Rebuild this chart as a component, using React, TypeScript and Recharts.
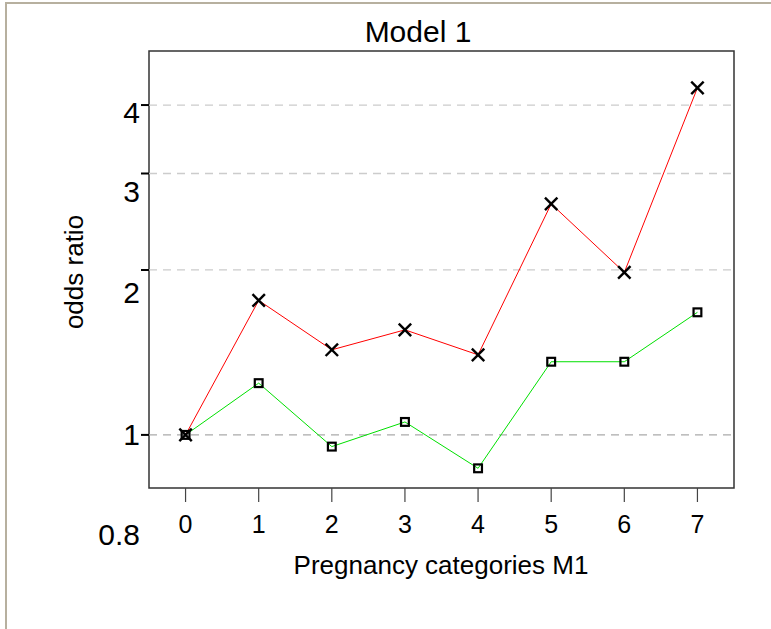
import React from "react";
import { LineChart, Line, XAxis, YAxis, ReferenceLine, ReferenceArea } from "recharts";

// ---- data ----
const categories = [0, 1, 2, 3, 4, 5, 6, 7];
const redSeries = [1.0, 1.76, 1.43, 1.555, 1.40, 2.64, 1.98, 4.3];
const greenSeries = [1.0, 1.243, 0.952, 1.056, 0.869, 1.36, 1.36, 1.674];
const xTicks = [0, 1, 2, 3, 4, 5, 6, 7];
const yTicks = [0.8, 1, 2, 3, 4];
const gridValues = [1, 2, 3, 4];
const titleText = "Model 1";
const xLabelText = "Pregnancy categories M1";
const yLabelText = "odds ratio";

const data = categories.map((c, i) => ({ cat: c, red: redSeries[i], green: greenSeries[i] }));

// ---- style ----
const FONT = '"Liberation Sans", Arial, Helvetica, sans-serif';
const W = 771;
const H = 629;
const PLOT = { left: 149, right: 734, top: 51, bottom: 488 };
const Y_AXIS_W = 60;
const X_AXIS_H = 40;
// baseline offsets of the y tick labels relative to their tick (as in the source image)
const yLabelBaseline: Record<string, number> = { "0.8": 57, "1": 10, "2": 33, "3": 29, "4": 18 };

const XMark = (props: any) => {
  const { cx, cy } = props;
  if (cx == null || cy == null) return null;
  const s = 6.2;
  return (
    <g>
      <line x1={cx - s} y1={cy - s} x2={cx + s} y2={cy + s} stroke="#000" strokeWidth={2.4} />
      <line x1={cx - s} y1={cy + s} x2={cx + s} y2={cy - s} stroke="#000" strokeWidth={2.4} />
    </g>
  );
};

const SquareMark = (props: any) => {
  const { cx, cy } = props;
  if (cx == null || cy == null) return null;
  const s = 3.9;
  return <rect x={cx - s} y={cy - s} width={2 * s} height={2 * s} fill="none" stroke="#000" strokeWidth={2.2} />;
};

const YTick = (props: any) => {
  const { x, y, payload } = props;
  const v = payload.value;
  const key = String(v);
  const off = yLabelBaseline[key] ?? 9;
  return (
    <g>
      {v !== 0.8 && <line x1={x + 1} y1={y} x2={x + 9} y2={y} stroke="#000" strokeWidth={2} />}
      <text x={x} y={y + off} textAnchor="end" fontSize={30} fontFamily={FONT} fill="#000">
        {key}
      </text>
    </g>
  );
};

const XTick = (props: any) => {
  const { x, y, payload } = props;
  return (
    <text x={x} y={y + 31} textAnchor="middle" fontSize={25} fontFamily={FONT} fill="#000">
      {String(payload.value)}
    </text>
  );
};

export default function App() {
  return (
    <div style={{ position: "absolute", left: 0, top: 0, width: W, height: H, background: "#fff", overflow: "hidden" }}>
      <div
        style={{
          position: "absolute",
          left: 5,
          top: 2,
          width: W,
          height: H,
          borderLeft: "2px solid #b7b09f",
          borderTop: "2px solid #b7b09f",
        }}
      />
      <LineChart
        width={W}
        height={H}
        data={data}
        margin={{
          top: PLOT.top,
          right: W - PLOT.right,
          bottom: H - PLOT.bottom - X_AXIS_H,
          left: PLOT.left - Y_AXIS_W,
        }}
        style={{ position: "absolute", left: 0, top: 0 }}
      >
        <XAxis
          dataKey="cat"
          type="number"
          domain={[-0.5, 7.5]}
          ticks={xTicks}
          allowDataOverflow
          height={X_AXIS_H}
          axisLine={false}
          tickLine={{ stroke: "#444", strokeWidth: 1.2 }}
          tickSize={14}
          tickMargin={0}
          tick={<XTick />}
          interval={0}
        />
        <YAxis
          type="number"
          scale="log"
          domain={[0.8, 5.02]}
          ticks={yTicks}
          allowDataOverflow
          width={Y_AXIS_W}
          axisLine={false}
          tickLine={false}
          tickSize={8}
          tickMargin={1}
          tick={<YTick />}
          interval={0}
        />
        {gridValues.map((g) => (
          <ReferenceLine
            key={g}
            y={g}
            stroke={g === 1 ? "#aaaaaa" : "#cccccc"}
            strokeWidth={1.3}
            strokeDasharray="8 6"
          />
        ))}
        <ReferenceArea
          x1={-0.5}
          x2={7.5}
          y1={0.8}
          y2={5.02}
          fill="none"
          fillOpacity={0}
          stroke="#333"
          strokeWidth={1.5}
          ifOverflow="visible"
        />
        <Line
          dataKey="red"
          stroke="#ff0000"
          strokeWidth={1}
          dot={<XMark />}
          activeDot={false}
          isAnimationActive={false}
        />
        <Line
          dataKey="green"
          stroke="#00e000"
          strokeWidth={1}
          dot={<SquareMark />}
          activeDot={false}
          isAnimationActive={false}
        />
      </LineChart>
      <svg width={W} height={H} style={{ position: "absolute", left: 0, top: 0, pointerEvents: "none" }}>
        <text x={418} y={42} textAnchor="middle" fontSize={30} fontFamily={FONT} fill="#000">
          {titleText}
        </text>
        <text x={441} y={574} textAnchor="middle" fontSize={26} fontFamily={FONT} fill="#000">
          {xLabelText}
        </text>
        <text
          x={83}
          y={272}
          textAnchor="middle"
          fontSize={26}
          fontFamily={FONT}
          fill="#000"
          transform="rotate(-90 83 272)"
        >
          {yLabelText}
        </text>
      </svg>
    </div>
  );
}
